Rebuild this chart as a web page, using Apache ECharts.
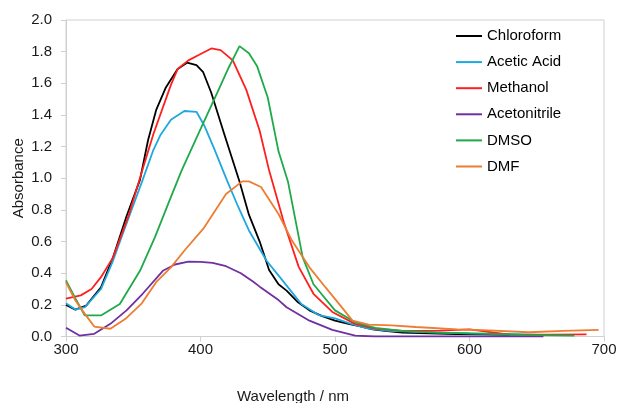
<!DOCTYPE html>
<html>
<head>
<meta charset="utf-8">
<script src="https://cdn.jsdelivr.net/npm/echarts@6/dist/echarts.min.js"></script>
<style>
html,body{margin:0;padding:0;background:#fff;}
#chart{width:618px;height:403px;}
</style>
</head>
<body>
<div id="chart"></div>
<script>
const seriesNames = ['Chloroform', 'Acetic Acid', 'Methanol', 'Acetonitrile', 'DMSO', 'DMF'];
const xTicks = [300, 400, 500, 600, 700];
const yTicks = [0, 0.2, 0.4, 0.6, 0.8, 1.0, 1.2, 1.4, 1.6, 1.8, 2.0];

const chloroformX = [300, 307, 315, 326, 335, 345, 355, 361, 367, 374, 383, 390, 397, 402, 408, 418, 429, 436, 444, 451, 458, 464, 472, 481, 490, 500, 510, 518, 528, 537, 550, 570, 590, 610, 630];
const chloroformY = [0.20, 0.17, 0.195, 0.31, 0.50, 0.76, 0.99, 1.24, 1.43, 1.57, 1.69, 1.73, 1.715, 1.67, 1.54, 1.27, 0.98, 0.77, 0.60, 0.42, 0.33, 0.29, 0.22, 0.165, 0.13, 0.10, 0.08, 0.065, 0.045, 0.035, 0.025, 0.02, 0.015, 0.013, 0.01];

const aceticX = [300, 307, 314, 326, 335, 344, 357, 365, 370, 378, 388, 397, 403, 410, 420, 428, 436, 449, 459, 467, 475, 488, 500, 512, 525, 540, 560, 580, 600, 620, 655];
const aceticY = [0.21, 0.17, 0.185, 0.30, 0.48, 0.69, 0.99, 1.18, 1.27, 1.37, 1.425, 1.42, 1.33, 1.19, 0.98, 0.82, 0.67, 0.48, 0.375, 0.29, 0.205, 0.135, 0.115, 0.08, 0.05, 0.035, 0.03, 0.025, 0.02, 0.018, 0.01];

const methanolX = [300, 311, 319, 326, 335, 347, 356, 365, 378, 383, 391, 399, 408, 415, 424, 434, 444, 451, 462, 473, 484, 498, 515, 530, 550, 578, 600, 631, 660, 687];
const methanolY = [0.24, 0.26, 0.30, 0.375, 0.50, 0.775, 1.03, 1.28, 1.59, 1.69, 1.745, 1.78, 1.82, 1.81, 1.745, 1.56, 1.30, 1.05, 0.72, 0.44, 0.27, 0.155, 0.08, 0.05, 0.035, 0.037, 0.045, 0.01, 0.012, 0.013];

const acetonitrileX = [300, 310, 321, 333, 345, 357, 372, 381, 391, 400, 409, 419, 430, 439, 444, 458, 464, 481, 498, 515, 530, 560, 600, 655];
const acetonitrileY = [0.055, 0.006, 0.017, 0.08, 0.165, 0.27, 0.415, 0.455, 0.473, 0.472, 0.465, 0.444, 0.40, 0.347, 0.315, 0.23, 0.185, 0.10, 0.042, 0.006, 0.0, 0.0, 0.0, 0.0];

const dmsoX = [300, 307, 314, 326, 340, 355, 366, 377, 386, 400, 413, 421, 429, 436, 442, 450, 458, 465, 476, 484, 500, 515, 530, 550, 575, 600, 640, 678];
const dmsoY = [0.355, 0.24, 0.133, 0.133, 0.205, 0.415, 0.625, 0.86, 1.05, 1.31, 1.55, 1.70, 1.835, 1.79, 1.71, 1.51, 1.17, 0.98, 0.50, 0.33, 0.165, 0.09, 0.055, 0.035, 0.025, 0.02, 0.01, 0.005];

const dmfX = [300, 307, 314, 321, 333, 344, 356, 367, 378, 389, 402, 419, 431, 436, 445, 458, 468, 481, 493, 503, 513, 525, 542, 560, 591, 610, 644, 670, 696];
const dmfY = [0.343, 0.227, 0.143, 0.063, 0.049, 0.11, 0.206, 0.343, 0.437, 0.553, 0.68, 0.90, 0.98, 0.98, 0.945, 0.774, 0.606, 0.437, 0.31, 0.206, 0.10, 0.075, 0.07, 0.06, 0.045, 0.04, 0.027, 0.035, 0.042];

const colors = ['#000000', '#1FA8E0', '#FF1F1F', '#7030A0', '#1EAA4A', '#ED7D31'];
const xs = [chloroformX, aceticX, methanolX, acetonitrileX, dmsoX, dmfX];
const ys = [chloroformY, aceticY, methanolY, acetonitrileY, dmsoY, dmfY];

const font = 'Liberation Sans, Arial, sans-serif';
const chart = echarts.init(document.getElementById('chart'));
chart.setOption({
  animation: false,
  backgroundColor: '#ffffff',
  color: colors,
  grid: {left: 66, top: 20, right: 14, bottom: 66.5, show: true, borderColor: '#d0d0d0', borderWidth: 1, backgroundColor: 'transparent', containLabel: false, outerBoundsMode: 'none'},
  legend: {
    orient: 'vertical', left: 456, top: 28, padding: 0, itemWidth: 26, itemHeight: 2, itemGap: 10.1,
    icon: 'rect',
    textStyle: {fontFamily: font, fontSize: 15, color: '#000', lineHeight: 16},
    data: seriesNames
  },
  xAxis: {
    type: 'value', min: xTicks[0], max: xTicks[xTicks.length - 1], interval: 100,
    axisLine: {show: true, lineStyle: {color: '#d0d0d0', width: 1}},
    axisTick: {show: true, length: 5, lineStyle: {color: '#d0d0d0'}},
    splitLine: {show: false},
    axisLabel: {fontFamily: font, fontSize: 15, color: '#1a1a1a', margin: 6}
  },
  yAxis: {
    type: 'value', min: yTicks[0], max: yTicks[yTicks.length - 1], interval: 0.2,
    name: 'Absorbance', nameLocation: 'middle', nameGap: 40, nameMoveOverlap: false,
    nameTextStyle: {fontFamily: font, fontSize: 15, color: '#1a1a1a'},
    axisLine: {show: true, lineStyle: {color: '#d0d0d0', width: 1}},
    axisTick: {show: true, length: 5, lineStyle: {color: '#d0d0d0'}},
    splitLine: {show: false},
    axisLabel: {fontFamily: font, fontSize: 15, color: '#1a1a1a', margin: 14, formatter: v => v.toFixed(1)}
  },
  graphic: [{
    type: 'text', left: 237, top: 389,
    style: {text: 'Wavelength / nm', font: '15px ' + font, fill: '#1a1a1a'}
  }],
  series: seriesNames.map((n, i) => ({
    name: n, type: 'line', showSymbol: false, symbol: 'none',
    lineStyle: {width: 1.8, color: colors[i]},
    itemStyle: {color: colors[i]},
    data: xs[i].map((x, j) => [x, ys[i][j]])
  }))
});
</script>
</body>
</html>
